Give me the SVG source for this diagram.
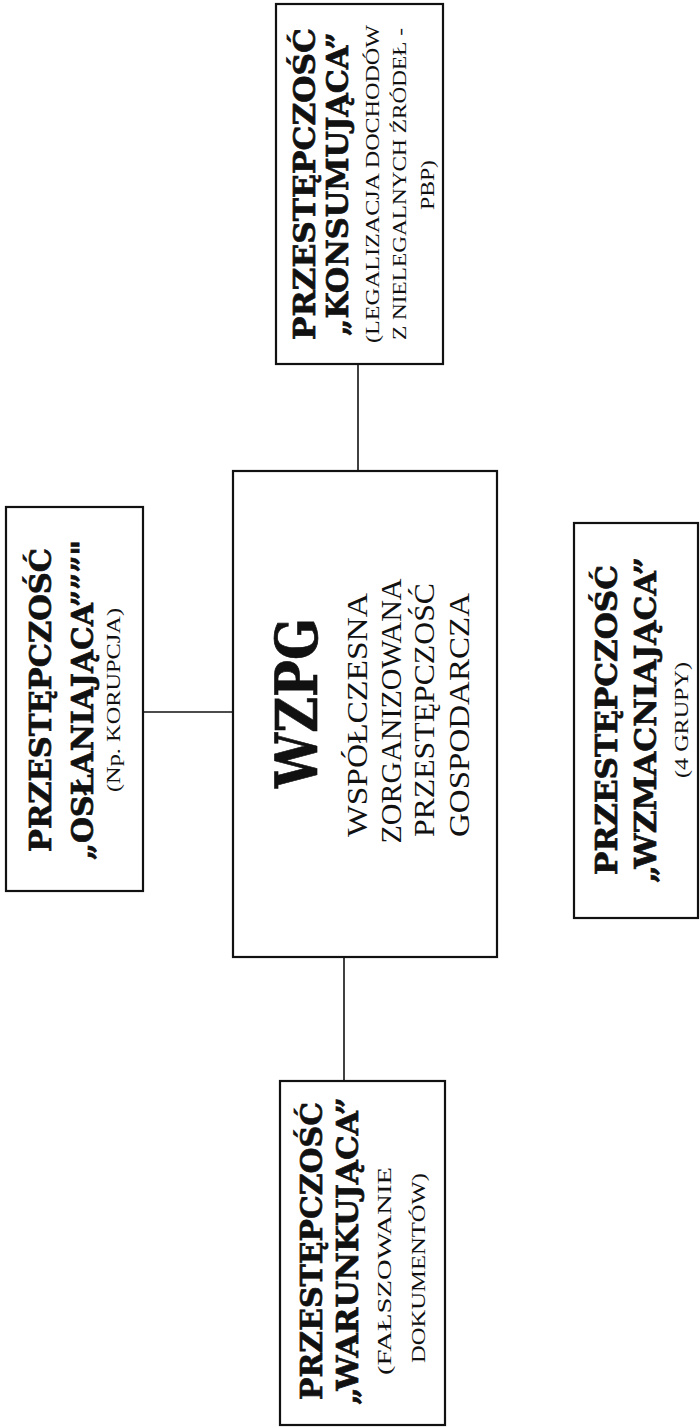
<svg xmlns="http://www.w3.org/2000/svg" width="700" height="1427" viewBox="0 0 700 1427">
<style>
.box{fill:#fff;stroke:#111;stroke-width:2.2}
.con{stroke:#111;stroke-width:1.6;fill:none}
.b{font-family:"DejaVu Serif","Liberation Serif",serif;font-weight:bold;fill:#111;stroke:#111;stroke-width:0.7;text-anchor:middle}
.r{font-family:"Liberation Serif","DejaVu Serif",serif;fill:#111;text-anchor:middle}
.h{font-size:29px}
.m{font-size:30px}
.s{font-size:19px}
</style>
<rect width="700" height="1427" fill="#fff"/>
<g id="connectors">
<line class="con" x1="143" y1="712" x2="233" y2="712"/>
<line class="con" x1="358" y1="364" x2="358" y2="471"/>
<line class="con" x1="344" y1="957" x2="344" y2="1081"/>
</g>
<g id="oslaniajaca">
<rect class="box" x="6" y="507" width="137" height="384"/>
<text class="b h" transform="translate(51,700) rotate(-90)" textLength="304" lengthAdjust="spacingAndGlyphs">PRZESTĘPCZOŚĆ</text>
<text class="b h" transform="translate(93,700) rotate(-90)" textLength="320" lengthAdjust="spacingAndGlyphs">„OSŁANIAJĄCA”””"</text>
<text class="r s" transform="translate(120,700) rotate(-90)" textLength="184" lengthAdjust="spacingAndGlyphs">(Np. KORUPCJA)</text>
</g>
<g id="wzpg">
<rect class="box" x="233" y="471" width="264" height="486"/>
<text class="b" font-size="58" stroke-width="2" transform="translate(317,703) rotate(-90)" textLength="170" lengthAdjust="spacingAndGlyphs">WZPG</text>
<text class="r m" transform="translate(367,715) rotate(-90)" textLength="244" lengthAdjust="spacingAndGlyphs">WSPÓŁCZESNA</text>
<text class="r m" transform="translate(401,711) rotate(-90)" textLength="265" lengthAdjust="spacingAndGlyphs">ZORGANIZOWANA</text>
<text class="r m" transform="translate(434,710) rotate(-90)" textLength="254" lengthAdjust="spacingAndGlyphs">PRZESTĘPCZOŚĆ</text>
<text class="r m" transform="translate(469,715) rotate(-90)" textLength="244" lengthAdjust="spacingAndGlyphs">GOSPODARCZA</text>
</g>
<g id="konsumujaca">
<rect class="box" x="276" y="4" width="167" height="360"/>
<text class="b h" transform="translate(315,184) rotate(-90)" textLength="312" lengthAdjust="spacingAndGlyphs">PRZESTĘPCZOŚĆ</text>
<text class="b h" transform="translate(348,184) rotate(-90)" textLength="304" lengthAdjust="spacingAndGlyphs">„KONSUMUJĄCA”</text>
<text class="r s" transform="translate(379,184) rotate(-90)" textLength="318" lengthAdjust="spacingAndGlyphs">(LEGALIZACJA DOCHODÓW</text>
<text class="r s" transform="translate(406,184) rotate(-90)" textLength="312" lengthAdjust="spacingAndGlyphs">Z NIELEGALNYCH ŹRÓDEŁ -</text>
<text class="r s" transform="translate(434,185) rotate(-90)" textLength="50" lengthAdjust="spacingAndGlyphs">PBP)</text>
</g>
<g id="warunkujaca">
<rect class="box" x="280" y="1081" width="165" height="344"/>
<text class="b h" transform="translate(322,1251) rotate(-90)" textLength="298" lengthAdjust="spacingAndGlyphs">PRZESTĘPCZOŚĆ</text>
<text class="b h" transform="translate(358,1251) rotate(-90)" textLength="308" lengthAdjust="spacingAndGlyphs">„WARUNKUJĄCA”</text>
<text class="r s" transform="translate(391,1271) rotate(-90)" textLength="208" lengthAdjust="spacingAndGlyphs">(FAŁSZOWANIE</text>
<text class="r s" transform="translate(425,1268) rotate(-90)" textLength="190" lengthAdjust="spacingAndGlyphs">DOKUMENTÓW)</text>
</g>
<g id="wzmacniajaca">
<rect class="box" x="574" y="523" width="124" height="395"/>
<text class="b h" transform="translate(617,720) rotate(-90)" textLength="310" lengthAdjust="spacingAndGlyphs">PRZESTĘPCZOŚĆ</text>
<text class="b h" transform="translate(656,720) rotate(-90)" textLength="326" lengthAdjust="spacingAndGlyphs">„WZMACNIAJĄCA”</text>
<text class="r s" transform="translate(688,720) rotate(-90)" textLength="116" lengthAdjust="spacingAndGlyphs">(4 GRUPY)</text>
</g>
</svg>
